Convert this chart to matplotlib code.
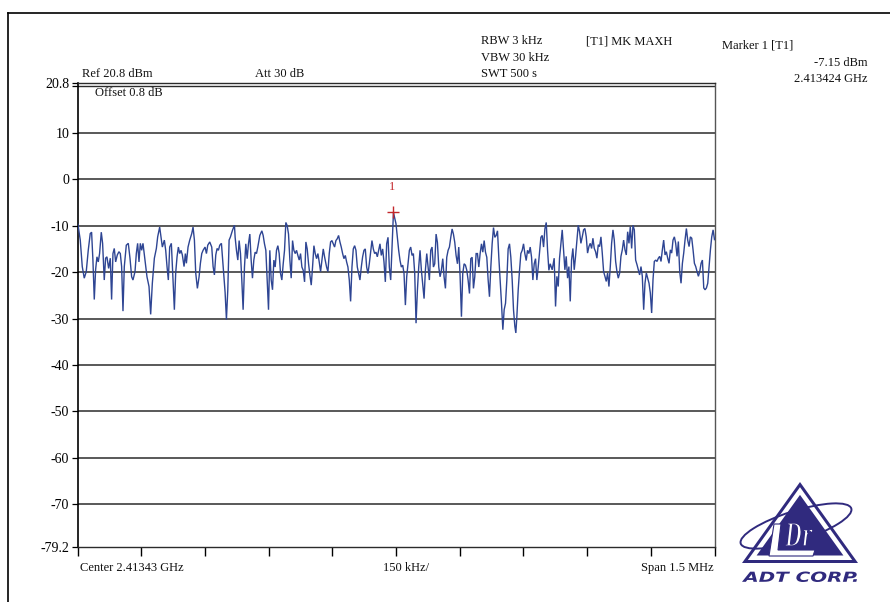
import matplotlib
matplotlib.use("Agg")
import matplotlib.pyplot as plt
import numpy as np
from matplotlib.patches import Polygon, Ellipse, PathPatch
from matplotlib.textpath import TextPath
from matplotlib.font_manager import FontProperties
from matplotlib.transforms import Affine2D

plt.rcParams['font.family'] = ['Liberation Serif', 'DejaVu Serif']

# ---- instrument settings ----
center_ghz = 2.41343
span_khz = 1500
ref_level = 20.8
bottom_level = -79.2
marker_khz = -6.0
marker_dbm = -7.15
y_ticks = [20.8, 10, 0, -10, -20, -30, -40, -50, -60, -70, -79.2]
y_labels = ["20.8", "10", "0", "-10", "-20", "-30", "-40", "-50", "-60", "-70", "-79.2"]
grid_levels = [10, 0, -10, -20, -30, -40, -50, -60, -70]

# ---- max-hold trace: offset from centre (kHz) and level (dBm) ----
freq_khz = [
    -749, -743.5, -738.8, -734.1, -729.4, -724.7, -720, -716.8, -713.7, -710.5,
    -707.4, -704.2, -701.1, -698, -694, -690.9, -687, -683.8, -680.7, -676.7,
    -672.8, -669.7, -666.5, -663.4, -660.2, -656.3, -652.4, -649.2, -646.1, -642.9,
    -639.8, -635.1, -630.4, -626.4, -622.5, -619.4, -614.6, -611.5, -608.4, -605.2,
    -602.1, -598.9, -595.8, -591.1, -586.4, -581.6, -577.7, -573.8, -569, -564.3,
    -561.2, -556.5, -553.3, -550.2, -545.5, -542.3, -539.2, -536.1, -532.9, -529,
    -525.1, -521.9, -518.8, -515.6, -512.5, -509.3, -506.2, -503.1, -499.1, -496,
    -493.6, -489.7, -485.7, -481, -477.9, -474.7, -471.6, -467.7, -463.7, -460.6,
    -457.4, -454.3, -449.6, -446.4, -443.3, -438.6, -433.9, -430.7, -427.6, -424.4,
    -421.3, -418.2, -415, -411.1, -407.1, -402.4, -399.3, -396.1, -393, -389.8,
    -385.1, -380.4,
    -378.8, -375.7, -372.5, -369.4, -366.2, -363.1, -360.0, -356.8, -353.7, -350.5,
    -347.4, -344.2, -341.1, -338.0, -334.8, -331.7, -328.5, -325.4, -320.7, -315.9,
    -312.8, -309.7, -306.5, -303.4, -300.2, -297.1, -293.9, -290.8, -287.6, -284.5,
    -281.4, -278.2, -275.1, -271.9, -268.8, -265.6, -262.5, -259.4, -256.2, -253.1,
    -249.9, -246.8, -243.6, -240.5, -237.3, -234.2, -231.1, -227.9, -224.8, -221.6,
    -218.5, -215.3, -212.2, -209.1, -205.9, -202.8, -199.6, -196.5, -193.3, -190.2,
    -187.0, -183.9, -180.8, -177.6, -174.5, -171.3, -168.2, -163.5, -160.3, -157.2,
    -154.0, -150.9, -147.7, -144.6, -141.5, -138.3, -135.2, -132.0, -128.9, -125.7,
    -122.6, -119.4, -116.3, -113.2, -110.0, -106.9, -103.7, -100.6, -97.4, -94.3,
    -91.1, -88.0, -84.9, -81.7, -78.6, -75.4, -72.3, -69.1, -66.0, -62.9,
    -59.7, -56.6, -53.4, -50.3, -47.1, -44.0, -40.8, -37.7, -34.6, -31.4,
    -28.3, -25.1, -22.0, -18.8, -15.7, -12.5, -9.4, -6.0,
    0.0, 3.2, 6.3, 9.5, 12.6, 15.8, 18.9, 22.1, 25.2, 28.3,
    31.5, 34.6, 37.8, 40.9, 44.1, 47.2, 50.4, 53.5, 56.6, 59.8,
    62.9, 66.1, 69.2, 72.4, 75.5, 78.6, 81.8, 84.9, 88.1, 91.2,
    94.4, 97.5, 100.7, 103.8, 106.9, 110.1, 113.2, 116.4, 119.5, 122.7,
    125.8, 129.0, 132.1, 135.2, 138.4, 141.5, 144.7, 147.8, 151.0, 154.1,
    157.2, 160.4, 163.5, 166.7, 169.8, 173.0, 176.1, 179.3, 182.4, 185.5,
    188.7, 191.8, 195.0, 198.1, 201.3, 204.4, 207.6, 210.7, 213.8, 217.0,
    220.1, 223.3, 226.4, 229.6, 232.7, 235.9, 239.0, 242.1, 245.3, 248.4,
    251.6, 254.7, 257.9, 261.0, 264.1, 267.3, 270.4, 273.6, 276.7, 279.9,
    282.2, 284.6, 287.7, 290.9, 294.0, 297.2, 300.3, 303.4, 306.6, 309.7,
    312.9, 316.0, 319.2, 322.3, 325.5, 328.6, 331.7, 334.9, 338.0, 341.2,
    344.3, 347.5, 350.6, 353.8, 356.9, 360.0, 363.2,
    367.8, 372.5, 375.7, 378.8, 382.0, 385.1, 388.3, 391.4, 394.5, 397.7,
    400.8, 404.0, 407.1, 410.3, 413.4, 416.5, 419.7, 422.8, 426.0, 429.1,
    432.3, 435.4, 438.6, 441.7, 444.8, 448.0, 451.1, 454.3, 457.4, 460.6,
    463.7, 466.9, 470.0, 473.1, 476.3, 479.4, 482.6, 485.7, 488.9, 492.0,
    495.1, 498.3, 501.4, 504.6, 507.7, 510.9, 514.0, 517.2, 520.3, 523.4,
    526.6, 529.7, 532.9, 536.0, 539.2, 542.3, 545.5, 548.6, 551.7, 554.9,
    558.0, 561.2, 564.3, 567.5, 570.6, 573.7, 576.9, 580.0, 583.2, 586.3,
    589.5, 592.6, 595.8, 598.9, 602.0, 605.2, 608.3, 611.5, 614.6, 617.8,
    620.9, 624.1, 627.2, 630.3, 633.5, 636.6, 639.8, 642.9, 646.1, 649.2,
    652.3, 655.5, 658.6, 661.8, 664.9, 668.1, 671.2, 674.4, 677.5, 680.6,
    683.8, 686.9, 690.1, 693.2, 696.4, 699.5, 702.7, 705.8, 708.9, 712.1,
    715.2, 718.4, 721.5, 724.7, 727.8, 731.0, 734.1, 737.3, 740.4, 743.5,
    746.7, 750.0,
]
level_dbm = [
    -9.7, -13.1, -18.8, -21.3, -19.9, -15.3, -11.7, -11.4, -17.4, -25.9,
    -19.5, -16.7, -17.8, -16.0, -11.4, -13.8, -21.7, -17.0, -16.7, -19.2,
    -17.0, -25.9, -16.0, -14.9, -17.8, -16.3, -15.6, -16.0, -18.8, -28.4,
    -18.8, -14.2, -13.8, -17.0, -21.0, -21.7, -19.9, -16.0, -13.8, -17.8,
    -13.8, -15.3, -13.8, -17.4, -21.0, -23.1, -29.1, -22.4, -17.0, -14.9,
    -12.4, -10.3, -12.4, -14.6, -13.1, -15.3, -18.8, -21.7, -14.6, -13.8,
    -21.7, -28.1, -20.2, -16.7, -14.6, -16.0, -15.3, -16.3, -18.8, -16.0,
    -18.1, -14.6, -13.1, -11.7, -10.3, -13.1, -20.2, -23.5, -21.0, -18.1,
    -16.0, -15.3, -14.6, -16.0, -14.2, -13.5, -14.6, -18.8, -20.6, -16.3,
    -14.9, -15.3, -14.2, -13.8, -18.8, -24.4, -30.2, -23.8, -13.1, -12.4,
    -11.0, -9.9,
    -12.5, -15.3, -17.4, -13.2, -16.0, -21.7, -28.1, -18.9, -13.9, -17.1,
    -13.9, -11.8, -17.4, -21.3, -17.4, -15.7, -16.0, -14.6, -12.1, -11.1,
    -12.1, -13.9, -15.3, -21.7, -28.1, -15.3, -21.7, -23.8, -17.4, -18.9,
    -15.3, -14.3, -16.0, -20.3, -21.7, -18.2, -15.3, -9.3, -10.0, -11.8,
    -17.4, -21.3, -13.2, -15.3, -16.0, -15.3, -16.4, -17.4, -16.0, -18.9,
    -19.6, -22.1, -13.5, -15.0, -18.2, -20.6, -22.8, -18.9, -14.3, -16.0,
    -17.1, -16.0, -17.8, -19.9, -17.4, -15.0, -16.7, -18.9, -19.9, -16.0,
    -13.5, -13.2, -13.9, -14.6, -13.2, -12.8, -12.1, -13.5, -14.6, -16.0,
    -17.1, -16.4, -17.8, -18.9, -21.7, -26.3, -18.9, -15.0, -14.3, -15.3,
    -18.9, -20.3, -21.7, -18.9, -16.7, -15.3, -15.0, -18.9, -20.3, -18.2,
    -15.7, -13.2, -15.0, -16.0, -15.7, -16.7, -15.3, -13.9, -16.4, -15.0,
    -17.8, -22.1, -13.9, -12.5, -18.9, -21.7, -14.6, -7.15,
    -9.6, -12.5, -15.3, -17.5, -18.9, -18.5, -20.3, -27.1, -21.0, -18.2,
    -15.3, -14.6, -16.4, -16.0, -20.3, -31.0, -23.9, -18.9, -15.3, -19.6,
    -22.5, -25.7, -19.6, -16.0, -18.9, -21.7, -15.3, -14.6, -18.9, -18.2,
    -11.8, -13.6, -18.9, -21.0, -19.6, -17.1, -21.0, -23.5, -16.8, -15.3,
    -14.6, -12.5, -10.7, -11.8, -13.6, -16.4, -18.2, -14.6, -21.0, -29.6,
    -20.3, -18.2, -18.5, -19.6, -21.7, -24.6, -17.1, -16.8, -23.5, -21.0,
    -16.0, -16.0, -18.9, -16.0, -13.9, -15.7, -13.2, -15.7, -16.8, -21.7,
    -25.3, -18.9, -13.9, -10.4, -12.5, -12.1, -11.1, -16.8, -21.7, -26.7,
    -32.4, -28.1, -26.7, -21.7, -15.0, -13.9, -16.8, -21.7, -28.1, -31.7,
    -33.1, -29.6, -23.9, -19.6, -16.0, -15.3, -13.9, -16.0, -17.5, -15.3,
    -16.0, -14.6, -16.8, -21.7, -18.2, -17.1, -21.7, -18.9, -15.7, -12.5,
    -12.1, -14.6, -10.7, -9.3, -15.3, -19.6, -18.2,
    -19.5, -17.0, -27.4, -20.9, -23.1, -17.0, -13.8, -10.9, -15.2, -19.5,
    -16.6, -21.3, -18.8, -26.3, -17.4, -14.9, -19.5, -16.6, -13.1, -9.9,
    -11.3, -13.8, -12.4, -10.9, -10.6, -12.4, -15.9, -14.5, -13.8, -14.9,
    -12.7, -14.9, -15.6, -17.0, -14.1, -14.5, -12.4, -15.9, -19.9, -20.9,
    -22.0, -20.2, -23.1, -18.8, -13.8, -10.9, -13.1, -17.7, -19.9, -21.3,
    -20.2, -16.6, -15.2, -13.1, -15.2, -16.3, -11.3, -13.8, -10.2, -14.9,
    -9.9, -10.9, -17.4, -18.4, -19.5, -20.6, -18.8, -20.9, -28.1, -22.4,
    -20.2, -21.3, -22.4, -24.5, -28.8, -21.6, -17.7, -17.4, -17.7, -17.0,
    -16.6, -17.7, -15.2, -13.1, -16.3, -15.6, -17.0, -18.1, -15.2, -15.9,
    -13.1, -12.4, -13.8, -16.6, -13.4, -19.9, -22.4, -18.1, -15.9, -13.1,
    -10.6, -13.1, -14.5, -12.4, -12.7, -15.2, -18.1, -18.8, -19.9, -20.9,
    -19.9, -18.1, -17.4, -23.4, -23.8, -23.4, -22.4, -18.8, -15.2, -12.4,
    -10.9, -13.0,
]

W, H = 890, 602
fig = plt.figure(figsize=(W / 100, H / 100), dpi=100)

# plot area in pixel terms
px_left, px_right, px_top, px_bottom = 77.5, 714.5, 82.7, 547.0
ax = fig.add_axes([px_left / W, 1 - px_bottom / H,
                   (px_right - px_left) / W, (px_bottom - px_top) / H])

half = span_khz / 2
ax.set_xlim(-half, half)
ax.set_ylim(bottom_level, ref_level)

line_col = '#2b2b2b'
for lvl in grid_levels:
    ax.axhline(lvl, color=line_col, lw=1.1, zorder=1)
# second reference line just under the top edge
ax.axhline(ref_level - 0.7, color=line_col, lw=1.0, zorder=1)

ax.plot(freq_khz, level_dbm, color='#2e4593', lw=1.0, zorder=3,
        solid_joinstyle='miter')

# marker 1
ax.plot([marker_khz], [marker_dbm], marker='+', ms=8, mew=1.0,
        color='#c3272b', zorder=4, linestyle='none')
ax.annotate('1', xy=(marker_khz, marker_dbm), xytext=(-1, 18.5),
            textcoords='offset points', ha='center', va='center',
            color='#c3272b', fontsize=9)

for s in ax.spines.values():
    s.set_color(line_col)
    s.set_linewidth(1.0)
ax.spines['left'].set_color('black')
ax.spines['left'].set_linewidth(1.2)
ax.spines['right'].set_color('#555555')

ax.set_yticks(y_ticks)
ax.set_yticklabels(y_labels, fontsize=10)
ax.set_yticks([ref_level - 0.7], minor=True)
ax.tick_params(axis='y', which='both', direction='out', length=4.5, width=0.9,
               pad=1.5, color='black')
ax.set_xticks(np.arange(-half, half + 1, span_khz / 10))
ax.set_xticklabels([])
ax.tick_params(axis='x', direction='out', length=6.5, width=1.0, color='black')

# overlay in pixel coordinates for header / footer annotations
ov = fig.add_axes([0, 0, 1, 1])
ov.set_xlim(0, W)
ov.set_ylim(H, 0)
ov.axis('off')

ov.plot([7.5, 7.5], [12.5, H], color='black', lw=1.2)
ov.plot([7.5, W], [12.5, 12.5], color='black', lw=1.2)

fs = 9
txt = dict(fontsize=fs, va='baseline', color='#111111')
ov.text(82, 77, "Ref 20.8 dBm", **txt)
ov.text(95, 96, "Offset 0.8 dB", **txt)
ov.text(255, 77, "Att 30 dB", **txt)
ov.text(481, 44, "RBW 3 kHz", **txt)
ov.text(481, 61, "VBW 30 kHz", **txt)
ov.text(481, 77, "SWT 500 s", **txt)
ov.text(586, 44, "[T1] MK MAXH", **txt)
ov.text(722, 49, "Marker 1 [T1]", **txt)
ov.text(868, 66, "-7.15 dBm", ha='right', fontsize=fs, va='baseline', color='#111111')
ov.text(868, 82, "2.413424 GHz", ha='right', fontsize=fs, va='baseline', color='#111111')
ov.text(80, 571, f"Center {center_ghz} GHz", **txt)
ov.text(383, 571, f"{span_khz // 10} kHz/", **txt)
ov.text(714, 571, f"Span {span_khz / 1000} MHz", ha='right', fontsize=fs,
        va='baseline', color='#111111')

# ---- company logo ----
navy = '#302a7e'
apex, bl, br = np.array([800, 482]), np.array([742, 563]), np.array([858, 563])
tri = np.array([apex, bl, br], dtype=float)
a = np.linalg.norm(br - apex); b = np.linalg.norm(bl - apex); c = np.linalg.norm(br - bl)
incenter = (c * apex + a * bl + b * br) / (a + b + c)
area = 0.5 * abs(np.cross(bl - apex, br - apex))
inr = 2 * area / (a + b + c)


def inset(d):
    return incenter + (tri - incenter) * (1 - d / inr)


ov.add_patch(Polygon(tri, closed=True, facecolor=navy, edgecolor='none', zorder=5))
ov.add_patch(Polygon(inset(3), closed=True, facecolor='white', edgecolor='none', zorder=6))
ov.add_patch(Polygon(inset(7.5), closed=True, facecolor=navy, edgecolor='none', zorder=7))
ov.add_patch(Ellipse((796, 526), 116, 30, angle=-17.6, fill=False,
                     edgecolor=navy, lw=1.4, zorder=8))
# white "L" stroke
ov.add_patch(Polygon([[774, 524], [781, 524], [778, 550], [815, 550],
                      [813, 556], [769, 556]], closed=True, facecolor='white',
                     edgecolor=navy, lw=0.8, zorder=9))
dr = TextPath((0, 0), "Dr", size=30,
              prop=FontProperties(family='DejaVu Serif', weight='bold', style='italic'))
ext = dr.get_extents()
tr = Affine2D().translate(-ext.x0, -ext.y0).scale(28 / ext.width, -23 / ext.height).translate(785, 546)
ov.add_patch(PathPatch(tr.transform_path(dr), facecolor='white', edgecolor=navy,
                       lw=1.0, zorder=10))
corp = TextPath((0, 0), "ADT CORP.", size=14,
                prop=FontProperties(family='DejaVu Sans', weight='bold', style='italic'))
ext = corp.get_extents()
tr = Affine2D().translate(-ext.x0, -ext.y0).scale(115 / ext.width, -10.5 / ext.height).translate(742, 582)
ov.add_patch(PathPatch(tr.transform_path(corp), facecolor=navy, edgecolor='none', zorder=10))

fig.savefig('out.png', dpi=100, facecolor='white')
